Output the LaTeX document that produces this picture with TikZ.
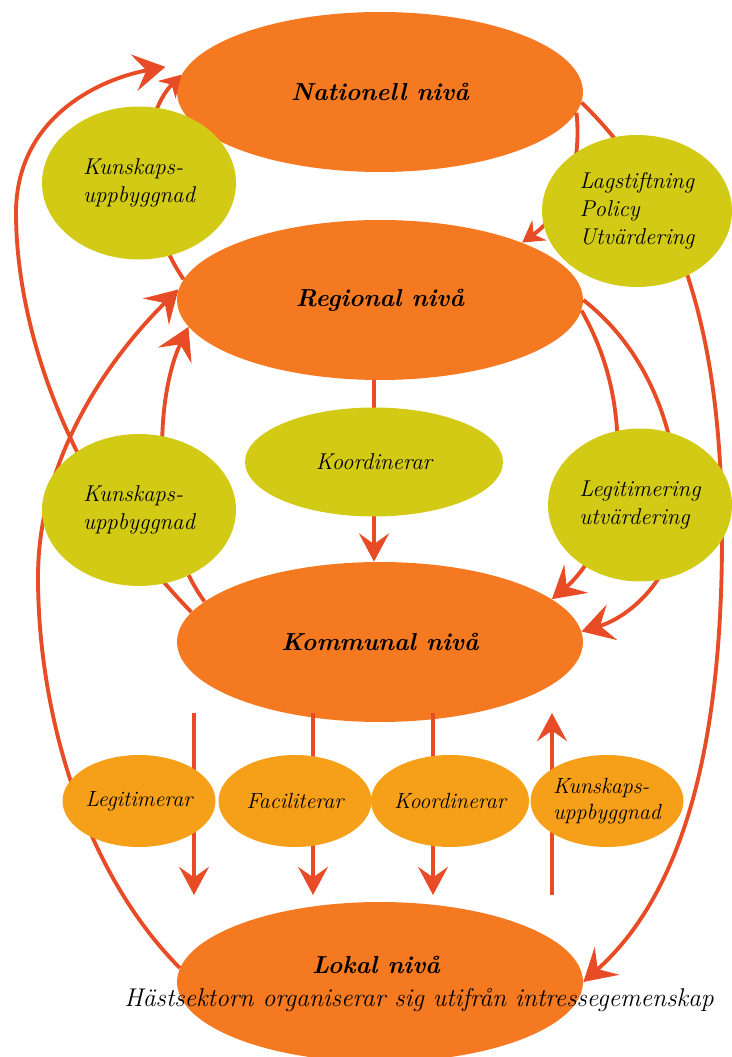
\documentclass[tikz,border=0pt]{standalone}
\usepackage{fontspec}
\usetikzlibrary{shapes.geometric,arrows.meta}
\definecolor{nivafarg}{HTML}{F47920}
\definecolor{gulfarg}{HTML}{D3CA15}
\definecolor{ljusfarg}{HTML}{F6A019}
\definecolor{pilfarg}{HTML}{E84C26}
\begin{document}
\begin{tikzpicture}[x=.02cm,y=.02cm,
	niva/.style={ellipse,fill=nivafarg,inner sep=0pt,minimum width=8.12cm,minimum height=3.2cm,font=\fontsize{14}{16}\selectfont\bfseries\itshape},
	roll/.style={ellipse,fill=gulfarg,inner sep=0pt,align=left,font=\fontsize{13}{16}\selectfont\itshape},
	uppgift/.style={ellipse,fill=ljusfarg,inner sep=0pt,minimum width=3.06cm,minimum height=1.84cm,align=left,font=\fontsize{12.5}{15}\selectfont\itshape},
	pil/.style={draw=pilfarg,line width=2.2pt,-{Stealth[length=18pt,width=21pt,inset=7pt]}},
	rak/.style={pil,-{Stealth[length=16pt,width=17pt,inset=6pt]}},
	liten/.style={pil,-{Stealth[length=12pt,width=14pt,inset=4pt]}}]
	\useasboundingbox (0,0) rectangle (731,1057);
	\node [niva] (nat) at (380,965) {Nationell nivå};
	\node [niva] (reg) at (380,757) {Regional nivå};
	\node [niva] (kom) at (380,415) {Kommunal nivå};
	\node [niva] (lok) at (380,75) {};
	\coordinate (mitt) at (374,595);
	\foreach \x [count=\i] in {194,313,433,552} {
		\coordinate (ovan\i) at (\x,344);
		\coordinate (under\i) at (\x,162);
	}
	\draw [pil,shorten >=15pt] (kom.171) .. controls (60,580) and (16,740) .. (16,844) .. controls (16,940) and (100,978) .. (nat.171);
	\draw [pil] (kom.167) .. controls (150,530) and (155,660) .. (reg.188);
	\draw [pil] (lok.176) .. controls (80,190) and (38,350) .. (38,480) .. controls (38,600) and (110,700) .. (reg.177);
	\draw [liten] (reg.174) .. controls (135,850) and (140,940) .. (nat.175);
	\draw [pil] (nat.-3) .. controls (690,850) and (722,700) .. (722,520) .. controls (722,330) and (690,170) .. (lok.east);
	\draw [liten] (nat.-6) .. controls (582,890) and (565,845) .. (reg.22);
	\draw [pil] (reg.-3) .. controls (605,705) and (618,660) .. (618,600) .. controls (618,540) and (590,490) .. (kom.14);
	\draw [pil] (reg.0) .. controls (650,705) and (680,620) .. (678,540) .. controls (676,480) and (630,440) .. (kom.3);
	\draw [rak] (reg.south -| mitt) -- (kom.north -| mitt);
	\foreach \i in {1,2,3} {
		\draw [rak] (ovan\i) -- (under\i);
	}
	\draw [rak] (under4) -- (ovan4);
	\node [roll,minimum width=5.16cm,minimum height=2.18cm] (koo) at (mitt) {Koordinerar};
	\node [roll,minimum width=3.88cm,minimum height=3.06cm] (kun1) at (139,874) {Kunskaps-\\uppbyggnad};
	\node [roll,minimum width=3.8cm,minimum height=3.04cm] (lag) at (637,846) {Lagstiftning\\Policy\\Utvärdering};
	\node [roll,minimum width=3.88cm,minimum height=3.04cm] (kun2) at (139,547) {Kunskaps-\\uppbyggnad};
	\node [roll,minimum width=3.68cm,minimum height=3.06cm] (leg) at (640,552) {Legitimering\\utvärdering};
	\node [uppgift] (legm) at (139,256) {Legitimerar};
	\node [uppgift] (fac) at (295,256) {Faciliterar};
	\node [uppgift] (koo2) at (450,256) {Koordinerar};
	\node [uppgift] (kun3) at (607,256) {Kunskaps-\\uppbyggnad};
	\node [font=\fontsize{14}{16}\selectfont\bfseries\itshape] (loktitel) at (376,92) {Lokal nivå};
	\node [font=\fontsize{14.6}{17}\selectfont\itshape] (sektor) at (419,57) {Hästsektorn organiserar sig utifrån intressegemenskap};
\end{tikzpicture}
\end{document}
